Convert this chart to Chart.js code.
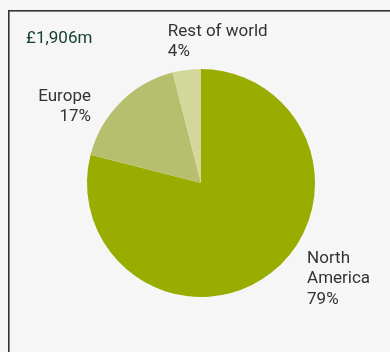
<!DOCTYPE html>
<html>
<head>
<meta charset="utf-8">
<script src="https://cdn.jsdelivr.net/npm/chart.js@4.4.0/dist/chart.umd.min.js"></script>
<style>
  html, body { margin: 0; padding: 0; background: #f6f6f6; }
  #wrap { width: 390px; height: 352px; }
</style>
</head>
<body>
<div id="wrap"><canvas id="myChart" width="390" height="352"></canvas></div>
<script>
// Datos del grafico
const regiones = ['Rest of world', 'Europe', 'North America'];
const porcentajes = [4, 17, 79];
const colores = ['#d2d89a', '#b6bf6d', '#98ad00'];
const total = '£1,906m';

// Orden de dibujo: en el sentido de las agujas desde las 12
const orden = [2, 1, 0];

// Etiquetas: angulo (grados desde arriba), distancia en radios, alineacion
const etiquetaAngulo = [347.3, 306.7, 127.0];
const etiquetaDist = [1.322, 1.204, 1.165];
const etiquetaAlign = ['left', 'right', 'left'];

const FUENTE = '17px Roboto';
const INTERLINEA = 20.5;

const marcoYEtiquetas = {
    id: 'marcoYEtiquetas',
    beforeDraw(chart) {
        const ctx = chart.ctx;
        ctx.save();
        ctx.fillStyle = '#f6f6f6';
        ctx.fillRect(0, 0, chart.width, chart.height);
        // marco superior e izquierdo
        ctx.fillStyle = '#333333';
        ctx.fillRect(8, 10, chart.width - 8, 1.6);
        ctx.fillRect(8, 10, 1.6, chart.height - 10);
        ctx.restore();
    },
    afterDatasetsDraw(chart) {
        const ctx = chart.ctx;
        const arcos = chart.getDatasetMeta(0).data;
        ctx.save();
        ctx.font = FUENTE;
        ctx.textBaseline = 'alphabetic';

        ctx.fillStyle = '#18402e';
        ctx.textAlign = 'left';
        ctx.fillText(total, 26, 43);

        ctx.fillStyle = '#333333';
        for (let k = 0; k < arcos.length; k++) {
            const i = orden[k];
            const arco = arcos[k];
            const a = etiquetaAngulo[i] * Math.PI / 180;
            const d = etiquetaDist[i] * arco.outerRadius;
            const x = arco.x + d * Math.sin(a);
            const y = arco.y - d * Math.cos(a);
            const lineas = regiones[i] === 'North America'
                ? ['North', 'America', porcentajes[i] + '%']
                : [regiones[i], porcentajes[i] + '%'];
            ctx.textAlign = etiquetaAlign[i];
            for (let n = 0; n < lineas.length; n++) {
                ctx.fillText(lineas[n], x, y + n * INTERLINEA);
            }
        }
        ctx.restore();
    }
};

new Chart(document.getElementById('myChart'), {
    type: 'pie',
    data: {
        labels: orden.map(i => regiones[i]),
        datasets: [{
            data: orden.map(i => porcentajes[i]),
            backgroundColor: orden.map(i => colores[i]),
            borderWidth: 0
        }]
    },
    options: {
        responsive: false,
        animation: false,
        layout: {
            padding: { left: 87, right: 75, top: 69, bottom: 55 }
        },
        plugins: {
            legend: { display: false },
            tooltip: { enabled: false }
        }
    },
    plugins: [marcoYEtiquetas]
});
</script>
</body>
</html>
